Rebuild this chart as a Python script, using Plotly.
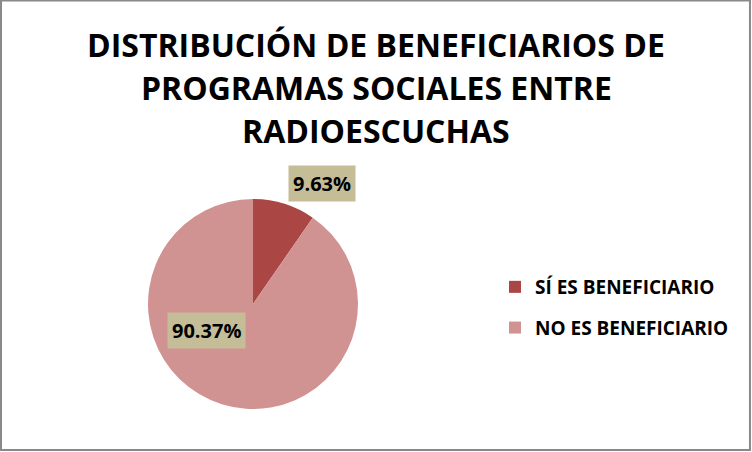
import plotly.graph_objects as go

categories = ["SÍ ES BENEFICIARIO", "NO ES BENEFICIARIO"]
values = [9.63, 90.37]
colors = ["#AA4643", "#D19392"]
title_lines = ["DISTRIBUCIÓN DE BENEFICIARIOS DE", "PROGRAMAS SOCIALES ENTRE", "RADIOESCUCHAS"]

W, H = 752, 452
FONT = "Open Sans, sans-serif"

fig = go.Figure()
fig.add_trace(go.Pie(
    labels=categories, values=values, sort=False, direction="clockwise", rotation=0,
    marker=dict(colors=colors, line=dict(width=0)),
    textinfo="none", hoverinfo="label+percent",
    domain=dict(x=[148 / W, 358 / W], y=[(H - 409) / H, (H - 199) / H]),
    showlegend=False,
))

# legend via dummy markers
for i, (c, col) in enumerate(zip(categories, colors)):
    fig.add_trace(go.Scatter(
        x=[None], y=[None], mode="markers", name=f"<b>{c}</b>", legendgroup=str(i),
        marker=dict(symbol="square", size=12, color=col), showlegend=True,
    ))

annotations = []
for i, (t, yc) in enumerate(zip(title_lines, [45, 88, 131])):
    annotations.append(dict(
        text=f"<b>{t}</b>", x=0.5, y=1 - yc / H, xref="paper", yref="paper",
        xanchor="center", yanchor="middle", showarrow=False,
        font=dict(family=FONT, size=32, color="#000000"),
    ))

label_pos = [(322, 183), (206, 330)]
for v, (lx, ly) in zip(values, label_pos):
    annotations.append(dict(
        text=f"<b>{v:.2f}%</b>", x=lx / W, y=1 - ly / H, xref="paper", yref="paper",
        xanchor="center", yanchor="middle", showarrow=False,
        font=dict(family=FONT, size=20, color="#000000"),
        bgcolor="#C4BD97", borderpad=4,
    ))

fig.update_layout(
    width=W, height=H,
    margin=dict(l=0, r=0, t=0, b=0),
    paper_bgcolor="white", plot_bgcolor="white",
    xaxis=dict(visible=False), yaxis=dict(visible=False),
    annotations=annotations,
    legend=dict(
        x=495 / W, y=1 - 268 / H, xanchor="left", yanchor="top",
        font=dict(family=FONT, size=19, color="#000000"),
        tracegroupgap=13, itemwidth=30, bgcolor="rgba(0,0,0,0)",
    ),
    shapes=[dict(type="rect", xref="paper", yref="paper", x0=0.0013, x1=0.9973, y0=0.0044, y1=0.9989,
                 line=dict(color="#898989", width=2))],
)
fig.write_html("out.html", config={"displayModeBar": False},
               post_script="document.body.style.margin='0';document.body.style.overflow='hidden';")
